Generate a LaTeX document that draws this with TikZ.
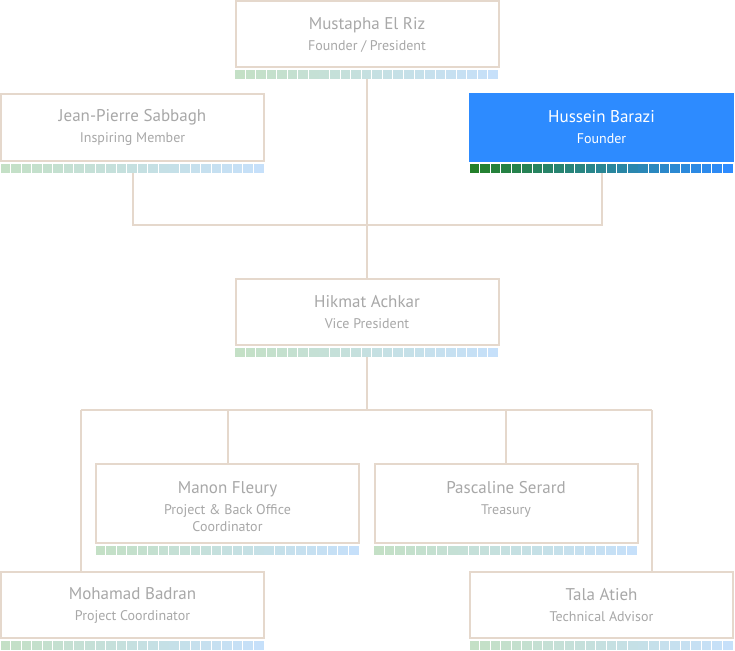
\documentclass[tikz,border=0pt]{standalone}
\usepackage{fontspec}
\setmainfont{PT Sans}
\usetikzlibrary{calc}

\definecolor{linecol}{RGB}{229,216,204}
\definecolor{textgray}{RGB}{168,168,168}
\definecolor{cellgreen}{RGB}{196,224,198}
\definecolor{cellblue}{RGB}{198,224,250}
\definecolor{darkgreen}{RGB}{36,128,42}
\definecolor{headblue}{RGB}{45,139,255}

% row of 25 small squares under a box, #1 = node, #2/#3 = colours left/right
\newcommand{\cells}[3]{%
	\foreach \i [evaluate=\i as \p using {int(\i*100/24)}] in {0,...,24}
		\fill[#3!\p!#2] ($(#1.south west)+(\i*10.56-0.5,3)$) rectangle ++(9.6,9);
	\coordinate (#1-s) at ($(#1.south)+(0,12)$);
}
\newcommand{\who}[2]{{\fontsize{17}{17}\selectfont #1}\\[4pt]#2}

\begin{document}
\begin{tikzpicture}[x=1pt,y=-1pt,
	person/.style={draw=linecol, line width=2pt, fill=white,
		minimum width=263pt, minimum height=66pt, inner sep=0pt, outer sep=0pt,
		align=center, text=textgray, font=\fontsize{14}{17}\selectfont},
	chosen/.style={person, draw=headblue, fill=headblue, text=white},
	tall/.style={person, minimum height=79pt, text height=56pt},
	link/.style={draw=linecol, line width=2pt}]
	%\draw[help lines] (0,0) grid[step=50] (735,650);
	\useasboundingbox (0,0) rectangle (735,650);
	
	\node[person] (mustapha) at (367,34.5) {\who{Mustapha El Riz}{Founder / President}};
	\node[person] (jean) at (132.5,127.5) {\who{Jean-Pierre Sabbagh}{Inspiring Member}};
	\node[chosen] (hussein) at (601.5,127.5) {\who{Hussein Barazi}{Founder}};
	\node[person] (hikmat) at (367,312) {\who{Hikmat Achkar}{Vice President}};
	\node[tall] (manon) at (227.5,503.5)
		{\who{Manon Fleury}{Project \& Back Office\\Coordinator}};
	\node[tall] (pascaline) at (506,503.5)
		{\who{Pascaline Serard}{Treasury\\\mbox{}}};
	\node[person] (mohamad) at (132.5,605) {\who{Mohamad Badran}{Project Coordinator}};
	\node[person] (tala) at (601.5,605) {\who{Tala Atieh}{Technical Advisor}};
	
	\cells{mustapha}{cellgreen}{cellblue}
	\cells{jean}{cellgreen}{cellblue}
	\cells{hussein}{darkgreen}{headblue}
	\cells{hikmat}{cellgreen}{cellblue}
	\cells{manon}{cellgreen}{cellblue}
	\cells{pascaline}{cellgreen}{cellblue}
	\cells{mohamad}{cellgreen}{cellblue}
	\cells{tala}{cellgreen}{cellblue}
	
	\coordinate (upper) at (367,225);
	\coordinate (lowleft) at (81,410);
	\coordinate (lowright) at (652,410);
	
	\draw[link] (mustapha-s) -- (hikmat.north);
	\draw[link] (jean-s) |- (upper) -| (hussein-s);
	\draw[link] (hikmat-s) -- (hikmat-s |- lowleft);
	\draw[link] (lowleft) -- (lowright);
	\draw[link] (lowleft) -- (lowleft |- mohamad.north);
	\draw[link] (lowright) -- (lowright |- tala.north);
	\draw[link] (manon.north) -- (manon.north |- lowleft);
	\draw[link] (pascaline.north) -- (pascaline.north |- lowleft);
\end{tikzpicture}
\end{document}
